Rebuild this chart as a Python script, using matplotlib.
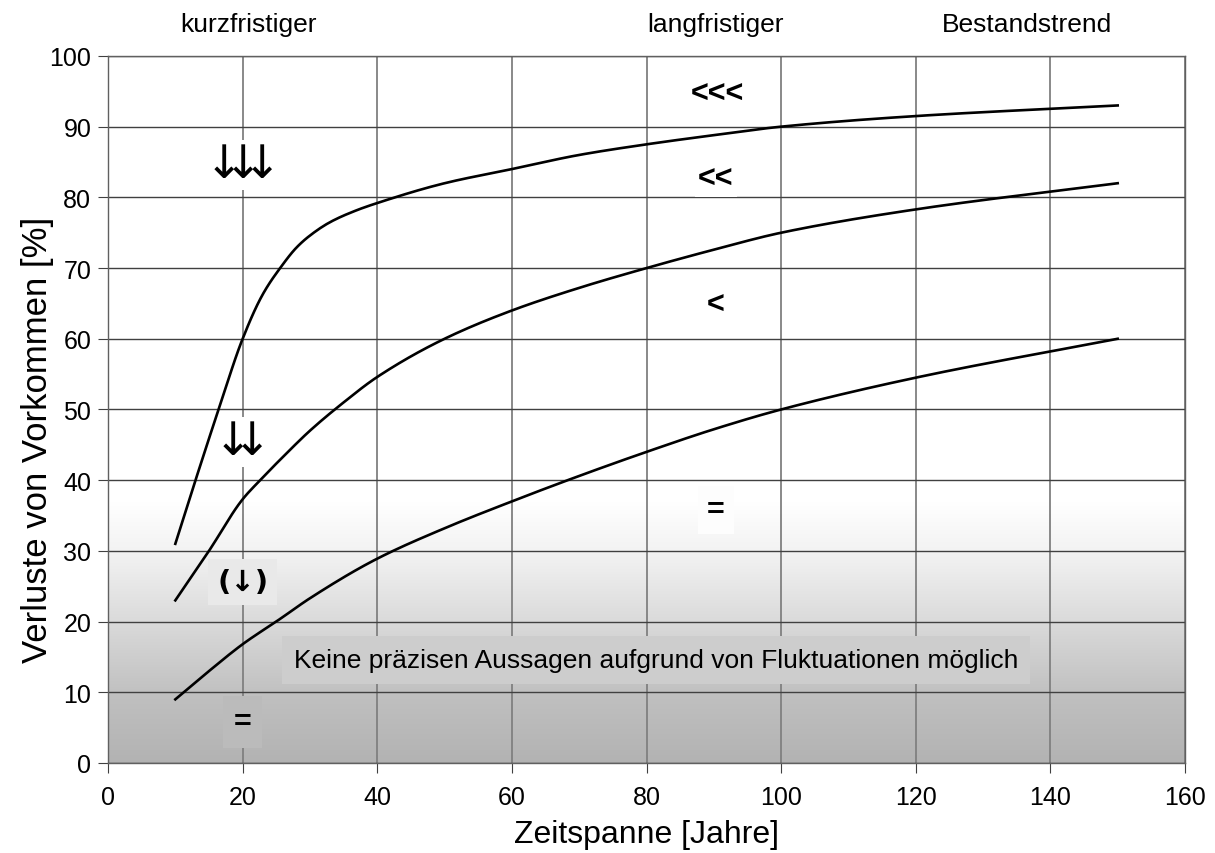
import numpy as np
import matplotlib
matplotlib.use("Agg")
import matplotlib.pyplot as plt
from matplotlib.colors import LinearSegmentedColormap

plt.rcParams['font.family'] = ['Liberation Sans', 'DejaVu Sans']

# curves
x_top = [10, 13, 16.6, 20, 23, 25.8, 28, 30, 33, 37, 40, 50, 60, 70, 80, 90, 100, 120, 150]
y_top = [31, 40, 50.5, 60, 66.3, 70.3, 72.9, 74.6, 76.5, 78.2, 79.2, 82, 84, 86, 87.5, 88.8, 90, 91.5, 93]

x_mid = [10, 15, 20, 22.6, 26, 30, 35, 40, 50, 60, 70, 80, 90, 100, 120, 150]
y_mid = [23, 30, 37.3, 40, 43.3, 47, 51, 54.6, 60, 64, 67.2, 70, 72.6, 75, 78.3, 82]

x_bot = [10, 15, 20, 25.6, 30, 40, 50, 60, 70, 80, 90, 100, 120, 150]
y_bot = [9, 13, 16.8, 20.4, 23.3, 28.9, 33.2, 37, 40.6, 44, 47.2, 50, 54.5, 60]

def smooth(xs, ys, n=300):
    xs = np.array(xs, float)
    ys = np.array(ys, float)
    # monotone cubic (PCHIP) through the read points
    h = np.diff(xs)
    d = np.diff(ys) / h
    m = np.zeros_like(ys)
    for k in range(1, len(xs) - 1):
        if d[k - 1] * d[k] > 0:
            w1 = 2 * h[k] + h[k - 1]
            w2 = h[k] + 2 * h[k - 1]
            m[k] = (w1 + w2) / (w1 / d[k - 1] + w2 / d[k])
    m[0] = d[0]
    m[-1] = d[-1]
    xx = np.linspace(xs[0], xs[-1], n)
    idx = np.clip(np.searchsorted(xs, xx) - 1, 0, len(xs) - 2)
    t = (xx - xs[idx]) / h[idx]
    h00 = 2 * t**3 - 3 * t**2 + 1
    h10 = t**3 - 2 * t**2 + t
    h01 = -2 * t**3 + 3 * t**2
    h11 = t**3 - t**2
    yy = h00 * ys[idx] + h10 * h[idx] * m[idx] + h01 * ys[idx + 1] + h11 * h[idx] * m[idx + 1]
    return xx, yy

fig = plt.figure(figsize=(12.15, 8.54), dpi=100)
ax = fig.add_axes([0.0889, 0.1054, 0.9753 - 0.0889, 0.9333 - 0.1054])

# grey gradient at the bottom
grad_top = 37
cmap = LinearSegmentedColormap.from_list(
    'g', [(0.0, (0.70, 0.70, 0.70)), (0.25, (0.75, 0.75, 0.75)),
          (0.55, (0.86, 0.86, 0.86)), (0.8, (0.95, 0.95, 0.95)), (1.0, (1, 1, 1))])
ax.imshow(np.linspace(0, 1, 256).reshape(-1, 1), cmap=cmap, origin='lower',
          extent=[0, 160, 0, grad_top], aspect='auto', zorder=0, vmin=0, vmax=1)

def bg(y):
    return cmap(float(min(max(y / grad_top, 0.0), 1.0)))

for xs, ys in [(x_top, y_top), (x_mid, y_mid), (x_bot, y_bot)]:
    xx, yy = smooth(xs, ys)
    ax.plot(xx, yy, color='black', linewidth=1.9, zorder=2)

ax.set_xlim(0, 160)
ax.set_ylim(0, 100)
ax.set_xticks(range(0, 161, 20))
ax.set_yticks(range(0, 101, 10))
ax.set_axisbelow(True)
ax.grid(axis='x', color='#808080', linewidth=1.3)
ax.grid(axis='y', color='#404040', linewidth=1.0)
for s in ax.spines.values():
    s.set_color('#606060')
    s.set_linewidth(1.0)
ax.tick_params(labelsize=18, length=7, color='#404040')
ax.tick_params(axis='x', pad=9)
ax.tick_params(axis='y', pad=5)
ax.set_xlabel('Zeitspanne [Jahre]', fontsize=23, labelpad=7)
ax.set_ylabel('Verluste von Vorkommen [%]', fontsize=25)
ax.yaxis.set_label_coords(-0.050, 0.458)

# column headings above the plot
tr = ax.get_xaxis_transform()
for xh, txt in [(20.8, 'kurzfristiger'), (90.3, 'langfristiger'), (136.5, 'Bestandstrend')]:
    ax.text(xh, 1.045, txt, transform=tr, ha='center', va='center', fontsize=19)

# arrow groups (short-term trend): centre, y, number of arrows, which arrow carries the box
arrow_groups = [(20, 84.6, 3, 1), (20, 45.4, 2, 1)]
arrow_step = 2.85
for xc, yc, n, boxed in arrow_groups:
    for k in range(n):
        kw = {'zorder': 1.6}
        if k == boxed:
            kw = {'zorder': 1.5,
                  'bbox': dict(boxstyle='square,pad=0.05', facecolor=bg(yc), edgecolor='none')}
        ax.text(xc + (k - (n - 1) / 2) * arrow_step, yc, '↓', ha='center', va='center',
                fontsize=33, family=['DejaVu Sans'], **kw)

# other trend symbols
symbols = [
    (20, 25.6, '(↓)', 21, ['DejaVu Sans'], 0.3),
    (20, 5.8, '=', 22, None, 0.35),
    (90.6, 94.6, '<<<', 22, None, 0.1),
    (90.3, 82.6, '<<', 22, None, 0.1),
    (90.3, 64.8, '<', 22, None, 0.1),
    (90.3, 35.8, '=', 22, None, 0.3),
]
for xs_, ys_, txt, fs, fam, pad in symbols:
    kw = {} if fam is None else {'family': fam}
    ax.text(xs_, ys_, txt, ha='center', va='center', fontsize=fs, fontweight='bold',
            zorder=1.5, bbox=dict(boxstyle='square,pad=%s' % pad, facecolor=bg(ys_), edgecolor='none'),
            **kw)

ax.text(81.4, 14.6, 'Keine präzisen Aussagen aufgrund von Fluktuationen möglich',
        ha='center', va='center', fontsize=19, zorder=1.5,
        bbox=dict(boxstyle='square,pad=0.45', facecolor=bg(14.6), edgecolor='none'))

fig.savefig('out.png', dpi=100, facecolor='white')
